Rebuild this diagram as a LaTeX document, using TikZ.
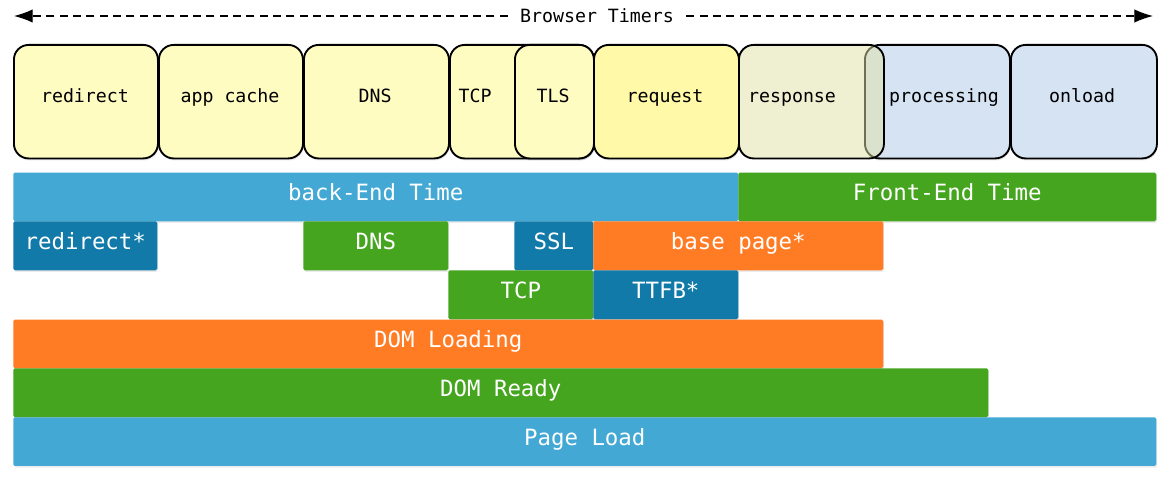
\documentclass[tikz,border=0pt]{standalone}
\usepackage{fontspec}
\setmonofont{DejaVu Sans Mono}
\usetikzlibrary{arrows.meta,shadows}
\definecolor{lblue}{HTML}{43A9D4}
\definecolor{dblue}{HTML}{127AA8}
\definecolor{bgreen}{HTML}{45A51E}
\definecolor{borange}{HTML}{FF7C24}
\definecolor{tyellow}{HTML}{FFFCC2}
\definecolor{ryellow}{HTML}{FFF9A8}
\definecolor{respcol}{HTML}{E0E0A6}
\definecolor{pblue}{HTML}{D5E3F3}
\newcommand\topfont{\ttfamily\fontsize{13.7}{16}\selectfont}
\newcommand\barfont{\ttfamily\fontsize{16.8}{20}\selectfont}
% top box: name, x1, y1, x2, y2, fill
\newcommand\tbox[6]{\node[tbox, fill=#6, minimum width={(#4-#2)*0.75pt}, minimum height={(#5-#3)*0.75pt}] (#1) at (#2,#3) {};}
% bar: name, x1, y1, x2, y2, fill, text
\newcommand\tbar[7]{\node[tbarst, fill=#6, minimum width={(#4-#2)*0.75pt}, minimum height={(#5-#3)*0.75pt}] (#1) at (#2,#3) {#7};}
\begin{document}
\begin{tikzpicture}[x=0.75pt,y=-0.75pt,
  tbox/.style={draw=black, line width=1.4pt, rounded corners=11pt, anchor=north west, inner sep=0pt,
    drop shadow={opacity=0.18, shadow xshift=0.6pt, shadow yshift=-1.5pt}},
  tboxns/.style={draw=black, line width=1.4pt, rounded corners=11pt, anchor=north west, inner sep=0pt},
  ttext/.style={font=\topfont, anchor=base, inner sep=0pt},
  tbarst/.style={anchor=north west, inner sep=0pt, rounded corners=1.2pt, text=white, font=\barfont,
    text height=12pt, text depth=6pt,
    drop shadow={opacity=0.15, shadow xshift=0.6pt, shadow yshift=-1.2pt}},
  timer/.style={dashed, dash pattern=on 6pt off 4pt, line width=0.9pt, -{Latex[length=14pt,width=10pt]}}
]
\useasboundingbox (0,0) rectangle (1164,478);
\fill[white] (0,0) rectangle (1164,478);

% title arrow
\node[font=\topfont, inner xsep=9pt, inner ysep=2pt] (title) at (597,16) {Browser Timers};
\coordinate (ltip) at (14,16);
\coordinate (rtip) at (1153,16);
\draw[timer] (title.west) -- (ltip);
\draw[timer] (title.east) -- (rtip);

% top boxes
\tbox{bredirect}{13}{44}{157}{157.5}{tyellow}
\tbox{bappcache}{158}{44}{302}{157.5}{tyellow}
\tbox{bdns}{303}{44}{448}{157.5}{tyellow}
\tbox{btcp}{449}{44}{593}{157.5}{tyellow}
\tbox{btls}{514}{44}{593}{157.5}{tyellow}
\tbox{brequest}{593}{44}{738}{157.5}{ryellow}
\tbox{bprocessing}{864}{44}{1009}{157.5}{pblue}
\node[tboxns, fill=respcol, fill opacity=0.5, draw opacity=1, minimum width={(883-738)*0.75pt}, minimum height={(157.5-44)*0.75pt}] (bresponse) at (738,44) {};
\tbox{bonload}{1010}{44}{1156}{157.5}{pblue}

\node[ttext] (tredirect) at (85,103) {redirect};
\node[ttext] (tappcache) at (230,103) {app cache};
\node[ttext] (tdns) at (375,103) {DNS};
\node[ttext] (ttcp) at (475,103) {TCP};
\node[ttext] (ttls) at (553,103) {TLS};
\node[ttext] (trequest) at (665,103) {request};
\node[ttext] (tresponse) at (792,103) {response};
\node[ttext] (tprocessing) at (944,103) {processing};
\node[ttext] (tonload) at (1082,103) {onload};

% bars
\tbar{backend}{13}{172.3}{738}{221}{lblue}{back-End Time}
\tbar{frontend}{738}{172.3}{1156}{221}{bgreen}{Front-End Time}
\tbar{redir}{13}{221}{157}{270}{dblue}{redirect*}
\tbar{dns}{303}{221}{448}{270}{bgreen}{DNS}
\tbar{ssl}{514}{221}{593}{270}{dblue}{SSL}
\tbar{basepage}{593}{221}{883}{270}{borange}{base page*}
\tbar{tcp}{448}{270}{593}{319}{bgreen}{TCP}
\tbar{ttfb}{593}{270}{738}{319}{dblue}{TTFB*}
\tbar{domloading}{13}{319.3}{883}{368}{borange}{DOM Loading}
\tbar{domready}{13}{368}{988}{417}{bgreen}{DOM Ready}
\tbar{pageload}{13}{417}{1156}{465.7}{lblue}{Page Load}
\end{tikzpicture}
\end{document}
